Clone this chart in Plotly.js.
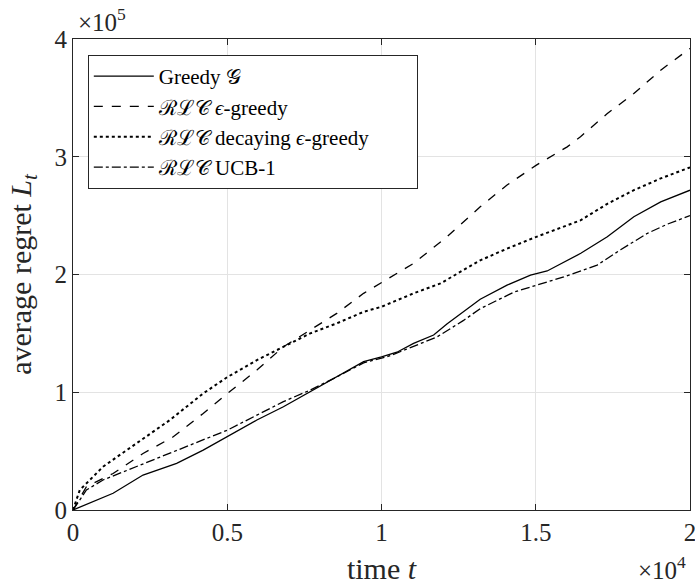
<!DOCTYPE html>
<html>
<head>
<meta charset="utf-8">
<script src="https://cdn.plot.ly/plotly-3.0.1.min.js"></script>
<style>html,body{margin:0;padding:0;background:#fff;}#chart{width:695px;height:585px;}</style>
</head>
<body>
<div id="chart"></div>
<script>
// time t
const greedyX = [0, 540, 1300, 2270, 3360, 4220, 5010, 5960, 6820, 7690, 8550, 9420, 10000, 10500, 11040, 11690, 12120, 13200, 14070, 14830, 15370, 15580, 16460, 17320, 18180, 19050, 20000];
const greedyY = [0, 5700, 14200, 29700, 39600, 50900, 62200, 76400, 87700, 100400, 113000, 126000, 130000, 134000, 141500, 148600, 158000, 179000, 191000, 199500, 203000, 206000, 218000, 232000, 249000, 261700, 271600];

const epsX = [0, 435, 1300, 2270, 3250, 4220, 5010, 5960, 6820, 7690, 8550, 9420, 10000, 11040, 12120, 13200, 14070, 15020, 16020, 16450, 17320, 18180, 19050, 20000];
const epsY = [0, 19800, 31000, 48000, 62200, 82000, 99000, 118800, 138600, 152800, 167000, 184000, 193000, 209400, 232000, 257500, 276000, 292900, 308400, 317000, 336700, 353700, 373500, 392000];

const decX = [0, 220, 974, 2060, 3140, 4220, 5010, 5960, 6820, 7690, 8550, 9420, 10000, 11040, 11910, 13200, 14070, 15020, 16450, 17320, 18180, 19050, 20000];
const decY = [0, 17000, 36800, 56600, 76400, 99000, 113000, 127300, 138600, 150000, 158500, 168300, 172600, 184000, 192400, 212000, 222000, 232000, 246000, 260000, 271600, 281600, 291000];

const ucbX = [0, 435, 974, 2060, 3140, 3680, 5010, 5960, 6820, 7690, 8550, 9420, 10280, 11040, 11800, 12660, 13200, 14290, 15020, 15910, 16990, 17750, 18620, 19270, 20000];
const ucbY = [0, 17000, 25500, 36800, 48000, 53800, 67900, 80600, 92000, 101900, 113000, 125000, 131000, 139000, 147000, 161000, 171000, 185000, 191000, 198000, 208000, 221000, 235000, 242800, 250000];

const seriesNames = [
  'Greedy \uD835\uDCA2',
  '\u211B\u2112\uD835\uDC9E <i>\u03F5</i>-greedy',
  '\u211B\u2112\uD835\uDC9E decaying <i>\u03F5</i>-greedy\u00A0\u00A0\u00A0\u00A0\u00A0\u00A0\u00A0\u00A0',
  '\u211B\u2112\uD835\uDC9E UCB-1'
];

const xTickVals = [0, 5000, 10000, 15000, 20000];
const xTickText = ['0', '0.5', '1', '1.5', '2'];
const yTickVals = [0, 100000, 200000, 300000, 400000];
const yTickText = ['0', '1', '2', '3', '4'];

const FONT = 'Liberation Serif';
const ink = '#000000';

const traces = [
  {x: greedyX, y: greedyY, name: seriesNames[0], mode: 'lines', line: {color: ink, width: 1.3, dash: 'solid'}},
  {x: epsX, y: epsY, name: seriesNames[1], mode: 'lines', line: {color: ink, width: 1.3, dash: 'dash'}},
  {x: decX, y: decY, name: seriesNames[2], mode: 'lines', line: {color: ink, width: 2, dash: 'dot'}},
  {x: ucbX, y: ucbY, name: seriesNames[3], mode: 'lines', line: {color: ink, width: 1.3, dash: 'dashdot'}}
];

const axisCommon = {
  showline: true, linecolor: '#262626', linewidth: 1, mirror: 'allticks',
  ticks: 'inside', ticklen: 6, tickcolor: '#262626', tickwidth: 1,
  showgrid: true, gridcolor: '#e3e3e3', gridwidth: 1,
  zeroline: false, tickfont: {family: FONT, size: 25, color: '#262626'},
  automargin: false, ticklabeloverflow: 'allow'
};

const layout = {
  width: 695, height: 585,
  margin: {l: 73, r: 5, t: 39, b: 75},
  paper_bgcolor: '#ffffff', plot_bgcolor: '#ffffff',
  font: {family: FONT, size: 24, color: '#262626'},
  showlegend: true,
  legend: {
    x: 0.024, y: 0.966, xanchor: 'left', yanchor: 'top',
    bgcolor: '#ffffff', bordercolor: '#262626', borderwidth: 1,
    font: {family: FONT, size: 21, color: '#000'},
    tracegroupgap: 0, itemwidth: 60
  },
  xaxis: Object.assign({}, axisCommon, {
    range: [0, 20000], tickvals: xTickVals, ticktext: xTickText,
    title: {text: 'time <i>t</i>', font: {family: FONT, size: 30, color: '#262626'}, standoff: 19}
  }),
  yaxis: Object.assign({}, axisCommon, {
    range: [0, 400000], tickvals: yTickVals, ticktext: yTickText,
    title: {text: 'average regret <i>L</i><sub><i>t</i></sub>', font: {family: FONT, size: 30, color: '#262626'}, standoff: 14}
  }),
  annotations: [
    {xref: 'paper', yref: 'paper', x: 0.005, y: 1.0, xanchor: 'left', yanchor: 'bottom', yshift: 1,
     text: '\u00D710<sup>5</sup>', showarrow: false, font: {family: FONT, size: 25, color: '#262626'}},
    {xref: 'paper', yref: 'paper', x: 0.997, y: 0, xanchor: 'right', yanchor: 'top', yshift: -40,
     text: '\u00D710<sup>4</sup>', showarrow: false, font: {family: FONT, size: 25, color: '#262626'}}
  ]
};

Plotly.newPlot('chart', traces, layout, {displayModeBar: false, staticPlot: true});
</script>
</body>
</html>
